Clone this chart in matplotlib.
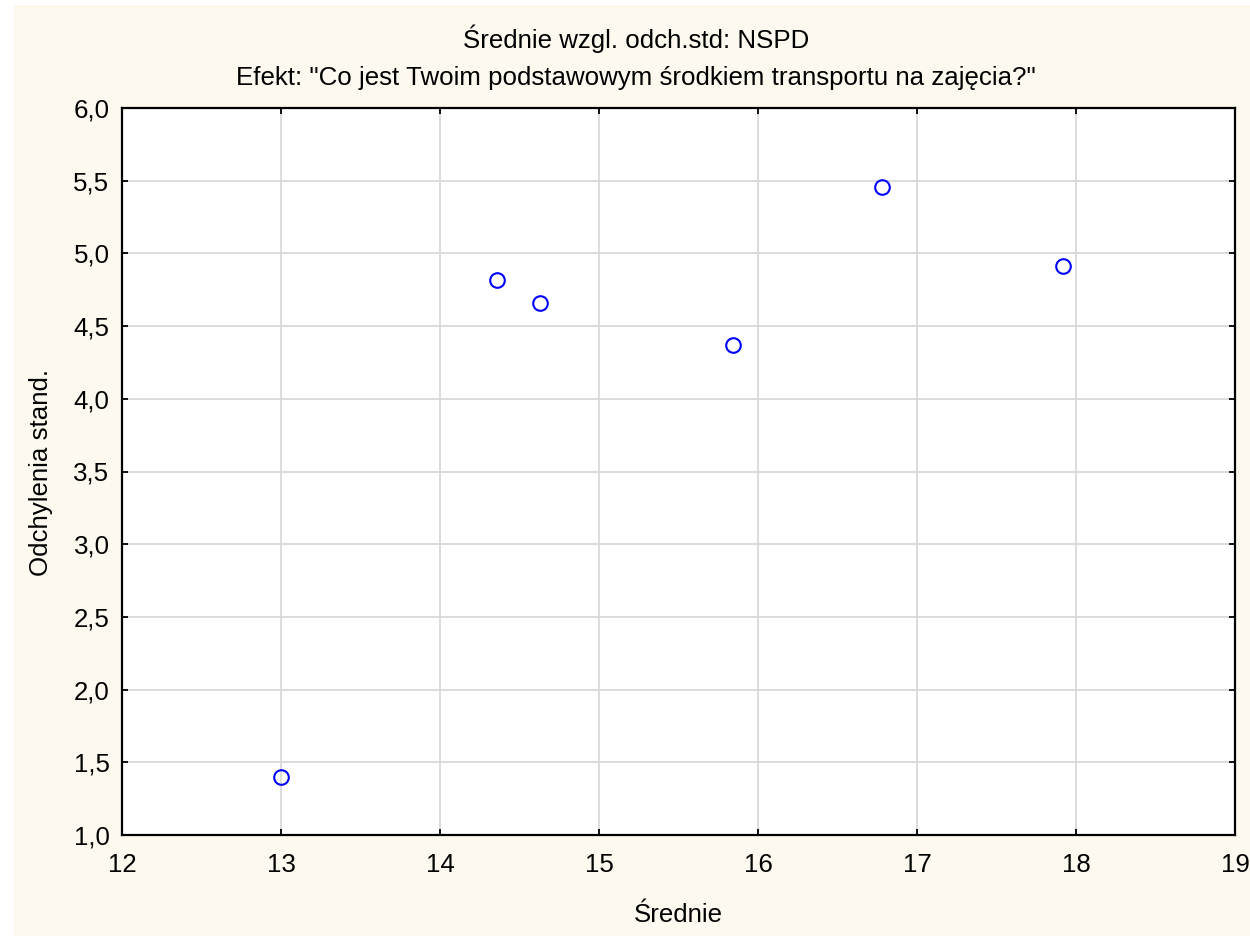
import matplotlib
matplotlib.use("Agg")
import matplotlib.pyplot as plt
from matplotlib.patches import Rectangle
from matplotlib.ticker import FuncFormatter

means = [13.0, 14.36, 14.63, 15.84, 16.78, 17.92]
stds = [1.40, 4.82, 4.66, 4.37, 5.46, 4.91]
xticks = [12, 13, 14, 15, 16, 17, 18, 19]
yticks = [1.0, 1.5, 2.0, 2.5, 3.0, 3.5, 4.0, 4.5, 5.0, 5.5, 6.0]
title1 = "Średnie wzgl. odch.std: NSPD"
title2 = 'Efekt: "Co jest Twoim podstawowym środkiem transportu na zajęcia?"'
xlabel = "Średnie"
ylabel = "Odchylenia stand."

plt.rcParams['font.family'] = ['Liberation Sans', 'DejaVu Sans']
FS = 18.6
W, H = 1250, 936
fig = plt.figure(figsize=(W / 100, H / 100), dpi=100, facecolor='white')
fig.patches.append(Rectangle((14 / W, 0), 1 - 14 / W, 1 - 5 / H, transform=fig.transFigure,
                             facecolor='#fdf9ef', edgecolor='none', zorder=-10))

left, right, top, bottom = 122, 1235, 108, 835
ax = fig.add_axes([left / W, 1 - bottom / H, (right - left) / W, (bottom - top) / H])
ax.set_facecolor('white')
ax.set_xlim(12, 19)
ax.set_ylim(1.0, 6.0)
ax.set_xticks(xticks)
ax.set_yticks(yticks)
ax.yaxis.set_major_formatter(FuncFormatter(lambda v, p: f"{v:.1f}".replace('.', ',')))
ax.xaxis.set_major_formatter(FuncFormatter(lambda v, p: f"{int(v)}"))
ax.grid(True, color='#d9d9d9', linewidth=1.3)
ax.set_axisbelow(True)
for s in ax.spines.values():
    s.set_linewidth(1.6)
    s.set_color('black')
ax.tick_params(direction='in', length=4, width=1.3, labelsize=FS,
               top=True, right=True, colors='black')
ax.tick_params(axis='y', pad=9)
ax.tick_params(axis='x', pad=13)

ax.plot(means, stds, linestyle='none', marker='o', markersize=10.5,
        markerfacecolor='none', markeredgecolor='#0000ff', markeredgewidth=1.5,
        clip_on=False, zorder=3)

cx = 636 / W
fig.text(cx, 1 - 48 / H, title1, ha='center', va='baseline', fontsize=FS)
fig.text(cx, 1 - 85 / H, title2, ha='center', va='baseline', fontsize=FS)
fig.text(0.5 * (left + right) / W, 1 - 922 / H, xlabel, ha='center', va='baseline', fontsize=FS)
fig.text(41 / W, 1 - 472 / H, ylabel, ha='center', va='center', fontsize=FS, rotation=90)

fig.savefig("out.png", dpi=100, facecolor=fig.get_facecolor())
